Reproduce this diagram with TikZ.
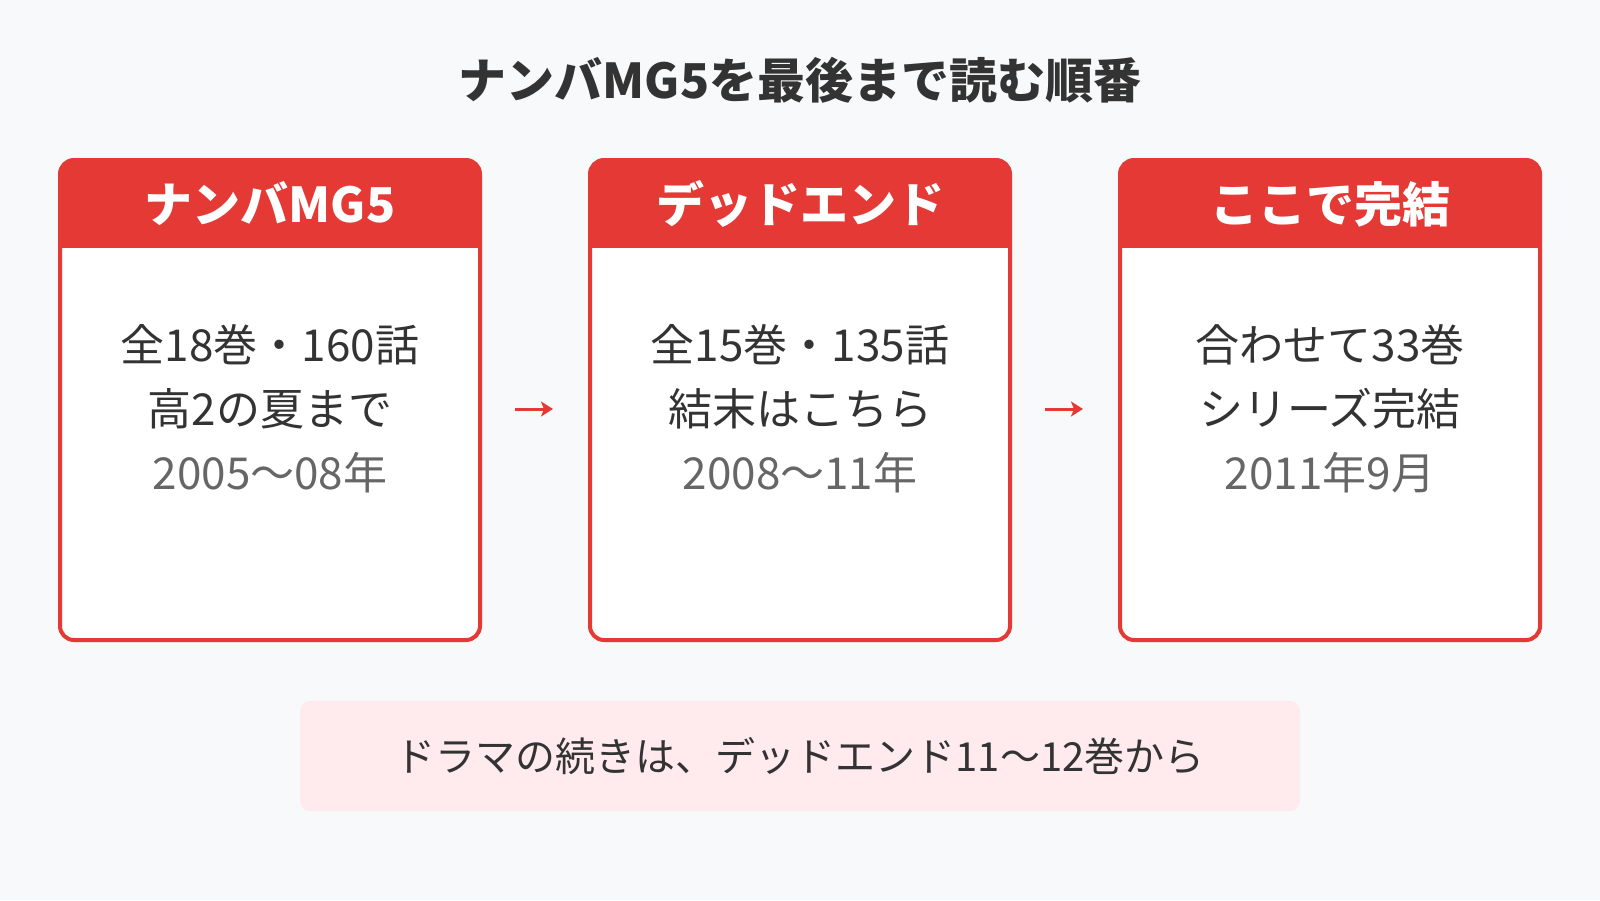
\documentclass[tikz,border=0pt]{standalone}
\usepackage{fontspec}
\setmainfont{Noto Sans CJK JP}
\usetikzlibrary{positioning, arrows.meta}
\begin{document}
\begin{tikzpicture}[x=0.5pt, y=-0.5pt, node distance=55pt,
card/.style={draw=mgred, line width=2pt, fill=white, rounded corners=7pt, minimum width=210pt, minimum height=240pt, outer sep=0pt, inner sep=0pt},
head/.style={text=white, font=\fontsize{24pt}{28pt}\selectfont\bfseries},
body/.style={text=darktext, align=center, font=\fontsize{22pt}{32pt}\selectfont},
note/.style={fill=notepink, rounded corners=5pt, minimum width=500pt, minimum height=55pt, text=darktext, font=\fontsize{20pt}{24pt}\selectfont},
arrow/.style={draw=mgred, line width=1.5pt, -{Stealth[length=6pt, width=7.5pt, inset=1.5pt]}, shorten <=17.5pt, shorten >=18.5pt} ]

% Define colors
\definecolor{mgred}{HTML}{E53935}
\definecolor{bgcol}{HTML}{F8F9FA}
\definecolor{darktext}{HTML}{333333}
\definecolor{subgray}{HTML}{666666}
\definecolor{notepink}{HTML}{FFEBEE}

% Background
\fill[bgcol] (0,0) rectangle (1600,900);
\useasboundingbox (0,0) rectangle (1600,900);

% Title
\node[text=darktext, font=\fontsize{24pt}{28pt}\selectfont\bfseries] (title) at (800,80) {ナンバMG5を最後まで読む順番};

% Cards
\node[card] (nanba) at (270,400) {};
\node[card, right=of nanba] (dead) {};
\node[card, right=of dead] (finale) {};

% Card headers
\foreach \c in {nanba, dead, finale} {
  \begin{scope}
    \clip[rounded corners=7pt] (\c.north west) rectangle (\c.south east);
    \fill[mgred] (\c.north west) rectangle ([yshift=-44pt]\c.north east);
  \end{scope}
}
\node[head] (nanbahead) at ([yshift=-22pt]nanba.north) {ナンバMG5};
\node[head] (deadhead) at ([yshift=-22pt]dead.north) {デッドエンド};
\node[head] (finalehead) at ([yshift=-22pt]finale.north) {ここで完結};

% Card texts
\node[body] (nanbatxt) at ([yshift=-4.5pt]nanba.center) {全18巻・160話\\高2の夏まで\\{\color{subgray}2005〜08年}};
\node[body] (deadtxt) at ([yshift=-4.5pt]dead.center) {全15巻・135話\\結末はこちら\\{\color{subgray}2008〜11年}};
\node[body] (finaletxt) at ([yshift=-4.5pt]finale.center) {合わせて33巻\\シリーズ完結\\{\color{subgray}2011年9月}};

% Arrows
\draw[arrow] ([yshift=-4.5pt]nanba.east) -- ([yshift=-4.5pt]dead.west);
\draw[arrow] ([yshift=-4.5pt]dead.east) -- ([yshift=-4.5pt]finale.west);

% Note
\node[note] (drama) at (800,756) {ドラマの続きは、デッドエンド11〜12巻から};

\end{tikzpicture}
\end{document}
